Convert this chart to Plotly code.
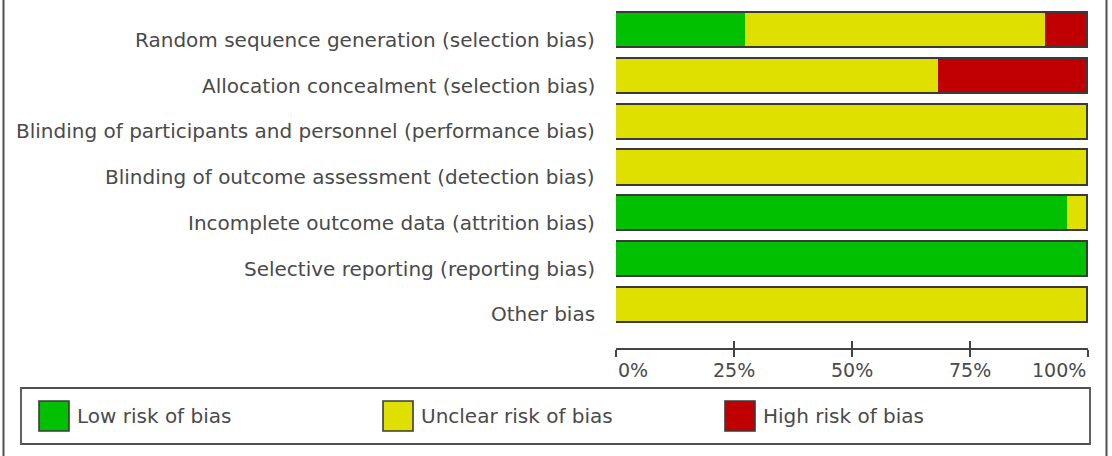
import plotly.graph_objects as go

# ---------------- data ----------------
domains = [
    "Random sequence generation (selection bias)",
    "Allocation concealment (selection bias)",
    "Blinding of participants and personnel (performance bias)",
    "Blinding of outcome assessment (detection bias)",
    "Incomplete outcome data (attrition bias)",
    "Selective reporting (reporting bias)",
    "Other bias",
]
low_risk = [27.3, 0.0, 0.0, 0.0, 95.5, 100.0, 0.0]
unclear_risk = [63.6, 68.2, 100.0, 100.0, 4.5, 0.0, 100.0]
high_risk = [9.1, 31.8, 0.0, 0.0, 0.0, 0.0, 0.0]
series_names = ["Low risk of bias", "Unclear risk of bias", "High risk of bias"]
tick_values = [0, 25, 50, 75, 100]
tick_labels = ["0%", "25%", "50%", "75%", "100%"]

# ---------------- style ----------------
W, H = 1112, 456
ML, MR, MT, MB = 616, 24, 8, 108
PW, PH = W - ML - MR, H - MT - MB
colors = ["#00c000", "#e0e000", "#c00000"]
edge = "#3a3a3a"
txt = "#4a4a4a"
FONT = "DejaVu Sans"
y_range = [6.935, -0.5]
bar_w = 0.77


def px(X):
    return (X - ML) / PW


def py(Y):
    return (H - MB - Y) / PH


totals = [a + b + c for a, b, c in zip(low_risk, unclear_risk, high_risk)]

fig = go.Figure()
for name, vals, col in zip(series_names, [low_risk, unclear_risk, high_risk], colors):
    fig.add_trace(go.Bar(
        y=domains, x=vals, orientation="h", name=name,
        marker=dict(color=col, line=dict(width=0)),
        width=bar_w, showlegend=False, hoverinfo="x+name",
    ))
# outline of each whole bar
fig.add_trace(go.Bar(
    y=domains, x=totals, orientation="h", xaxis="x2", yaxis="y2",
    marker=dict(color="rgba(0,0,0,0)", line=dict(width=1.6, color=edge)),
    width=bar_w, showlegend=False, hoverinfo="skip", cliponaxis=False,
))

shapes = []
annotations = []

# category labels (offset slightly below bar centres, as in the original)
for d in domains:
    annotations.append(dict(
        x=0, xref="paper", y=d, yref="y", text=d, showarrow=False,
        xanchor="right", yanchor="middle", xshift=-19, yshift=-9,
        font=dict(family=FONT, size=20, color=txt),
    ))

# x tick labels
for v, lab in zip(tick_values, tick_labels):
    anc = "left" if v == tick_values[0] else ("right" if v == tick_values[-1] else "center")
    annotations.append(dict(
        x=v, xref="x", y=py(370), yref="paper", text=lab, showarrow=False,
        xanchor=anc, yanchor="middle",
        font=dict(family=FONT, size=19, color=txt),
    ))

# outer frame side lines
for X in (3.5, 1106.5):
    shapes.append(dict(type="line", xref="paper", yref="paper",
                       x0=px(X), x1=px(X), y0=py(0), y1=py(H),
                       line=dict(color="#505050", width=2)))

# legend box
shapes.append(dict(type="rect", xref="paper", yref="paper",
                   x0=px(21), x1=px(1090), y0=py(444), y1=py(388),
                   line=dict(color="#505050", width=1.8), fillcolor="white"))
leg_sq = [39, 383, 725]
for X, col, name in zip(leg_sq, colors, series_names):
    shapes.append(dict(type="rect", xref="paper", yref="paper",
                       x0=px(X), x1=px(X + 30), y0=py(431), y1=py(401),
                       line=dict(color=edge, width=1.6), fillcolor=col))
    annotations.append(dict(
        x=px(X + 36), xref="paper", y=py(416), yref="paper", text=name,
        showarrow=False, xanchor="left", yanchor="middle",
        font=dict(family=FONT, size=20, color=txt),
    ))

fig.update_layout(
    width=W, height=H,
    margin=dict(l=ML, r=MR, t=MT, b=MB, pad=0),
    paper_bgcolor="white", plot_bgcolor="white",
    barmode="stack", bargap=0,
    showlegend=False,
    shapes=shapes, annotations=annotations,
    xaxis=dict(range=[0, 100], tickvals=tick_values, showticklabels=False,
               ticks="outside", ticklen=7, tickwidth=1.5, tickcolor="#444",
               showline=True, linecolor="#444", linewidth=1.5,
               showgrid=False, zeroline=False, fixedrange=True),
    xaxis2=dict(range=[0, 100], overlaying="x", anchor="y2", side="bottom",
                tickvals=tick_values, showticklabels=False,
                ticks="inside", ticklen=7, tickwidth=1.5, tickcolor="#444",
                showline=False, showgrid=False, zeroline=False, fixedrange=True),
    yaxis=dict(type="category", categoryarray=domains, range=y_range,
               showticklabels=False, ticks="", showgrid=False, zeroline=False,
               showline=False, fixedrange=True),
    yaxis2=dict(type="category", categoryarray=domains, range=y_range,
                overlaying="y", showticklabels=False, ticks="", showgrid=False,
                zeroline=False, showline=False, fixedrange=True),
)

fig.write_html("out.html")
